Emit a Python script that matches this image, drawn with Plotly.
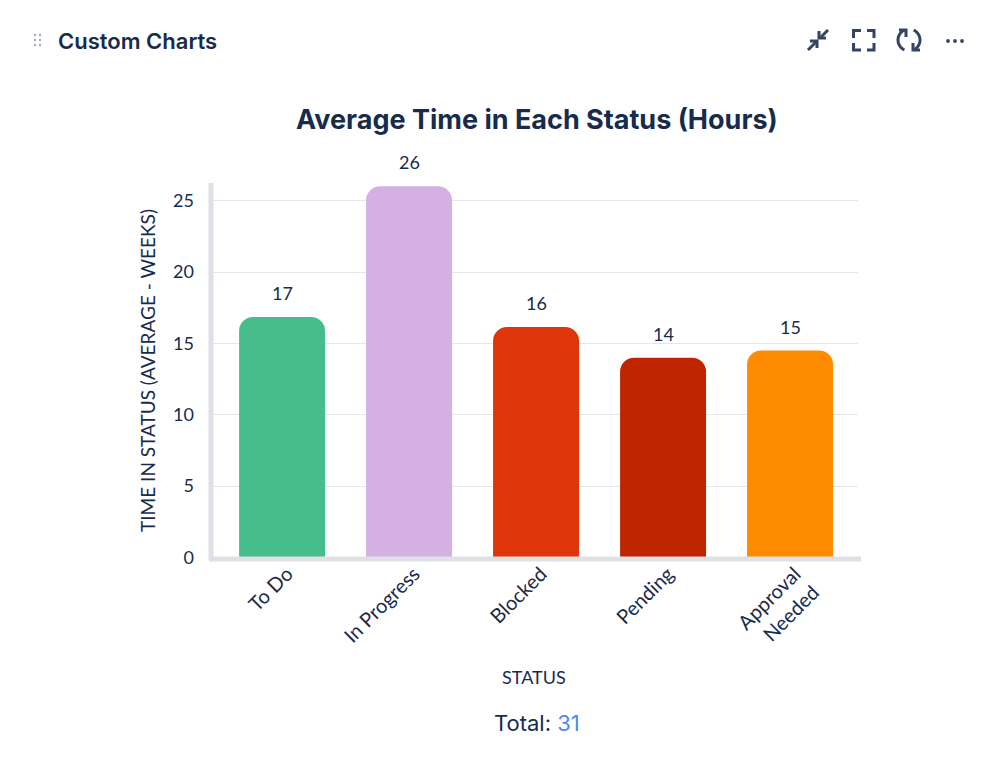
import math
import plotly.graph_objects as go

categories = ["To Do", "In Progress", "Blocked", "Pending", "Approval<br>Needed"]
values = [16.85, 26, 16.15, 14, 14.5]
labels = ["17", "26", "16", "14", "15"]
colors = ["#48BD8C", "#D5B0E3", "#DE350B", "#BF2600", "#FF8B00"]
y_ticks = [0, 5, 10, 15, 20, 25]

W, H = 999, 764
NAVY = "#172B4D"
ICON = "#344563"


def px(x):
    return x / W


def py(y):
    return 1 - y / H


def path(points, width=3, color=ICON):
    d = "M" + " L".join(f"{px(a):.5f},{py(b):.5f}" for a, b in points)
    return dict(type="path", xref="paper", yref="paper", path=d,
                line=dict(color=color, width=width), layer="above")


def arc(cx, cy, r, a0, a1, n=14):
    return [(cx + r * math.cos(math.radians(a0 + (a1 - a0) * i / n)),
             cy + r * math.sin(math.radians(a0 + (a1 - a0) * i / n))) for i in range(n + 1)]


def dot(x, y, r, color):
    return dict(type="circle", xref="paper", yref="paper", x0=px(x - r), x1=px(x + r),
                y0=py(y + r), y1=py(y - r), fillcolor=color, line=dict(width=0))


shapes = []
for gx in (35, 40):
    for gy in (35, 40, 45):
        shapes.append(dot(gx, gy, 1.2, "#A5ADBA"))
shapes += [path([(808, 50), (816, 42)]), path([(810, 41), (817, 41), (817, 48)]),
           path([(820, 38), (828, 30)]), path([(819, 31), (819, 38), (826, 38)])]
shapes += [path([(853.5, 38), (853.5, 30.5), (861, 30.5)]), path([(867, 30.5), (874, 30.5), (874, 38)]),
           path([(853.5, 43), (853.5, 50), (861, 50)]), path([(867, 50), (874, 50), (874, 43)])]
shapes += [path(arc(909, 40, 11, 115, 245)), path([(899, 30), (906, 30), (906, 37)]),
           path(arc(909, 40, 11, -65, 65)), path([(913, 43), (913, 50), (920, 50)])]
for mx in (948, 955, 962):
    shapes.append(dot(mx, 41, 1.9, ICON))
shapes += [
    dict(type="line", xref="paper", yref="paper", x0=px(211), x1=px(211), y0=py(560), y1=py(183),
         line=dict(color="#DFE1E6", width=5)),
    dict(type="line", xref="paper", yref="paper", x0=px(209), x1=px(861), y0=py(559), y1=py(559),
         line=dict(color="#DFE1E6", width=5)),
]

fig = go.Figure(go.Bar(
    x=list(range(len(categories))), y=values, width=0.677,
    marker=dict(color=colors, cornerradius=14, line=dict(width=0)),
    hoverinfo="skip",
))

annotations = [dict(x=i, y=v, text=t, showarrow=False, yshift=24, yanchor="middle",
                    font=dict(family="Lato", size=18, color=NAVY))
               for i, (v, t) in enumerate(zip(values, labels))]


def page_text(x, y, text, size, family, xanchor="center", weight=None):
    return dict(xref="paper", yref="paper", x=px(x), y=py(y), text=text, showarrow=False,
                xanchor=xanchor, yanchor="middle",
                font=dict(family=family, size=size, color=NAVY, weight=weight))


annotations += [
    page_text(56, 41, "Custom Charts", 22, "Inter", "left", 600),
    page_text(537, 119, "Average Time in Each Status (Hours)", 27, "Inter", "center", 700),
    page_text(534, 677, "STATUS", 18, "Lato"),
    page_text(537, 723, "Total: <span style='color:#4C8BF5'>31</span>", 22, "Inter"),
]

fig.update_layout(
    width=W, height=H, margin=dict(l=0, r=0, t=0, b=0, autoexpand=False),
    paper_bgcolor="white", plot_bgcolor="white", showlegend=False,
    shapes=shapes, annotations=annotations,
    xaxis=dict(domain=[px(213), px(858)], range=[-0.544, 4.535], tickmode="array",
               tickvals=list(range(len(categories))), ticktext=categories, tickangle=-45,
               tickfont=dict(family="Lato", size=20, color=NAVY), showgrid=False, zeroline=False,
               showline=False, ticks="", automargin=False, ticklabelshift=5),
    yaxis=dict(domain=[py(557.5), py(183.5)], range=[0, 26.2], tickmode="array", tickvals=y_ticks,
               tickfont=dict(family="Lato", size=18, color=NAVY), gridcolor="#E5E6EC", gridwidth=1.4,
               zeroline=False, showline=False, ticks="", ticklabelstandoff=18, automargin=False,
               title=dict(text="TIME IN STATUS (AVERAGE - WEEKS)", font=dict(family="Lato", size=19, color=NAVY),
                          standoff=12)),
)

fig.write_html("out.html", config=dict(displayModeBar=False),
               post_script="document.body.style.margin='0';")
